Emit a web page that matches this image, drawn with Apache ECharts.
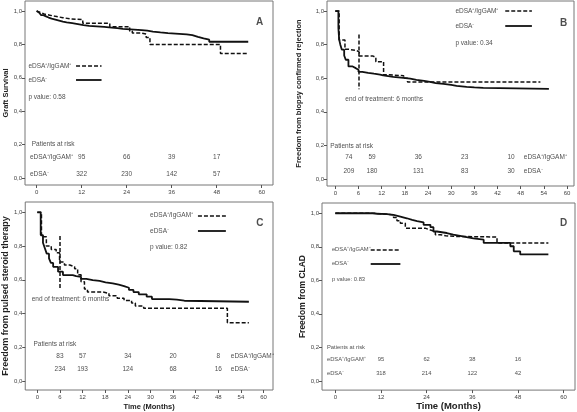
<!DOCTYPE html>
<html><head><meta charset="utf-8">
<script src="https://cdn.jsdelivr.net/npm/echarts@6/dist/echarts.min.js"></script>
<style>html,body{margin:0;padding:0;background:#fff}#c{width:577px;height:412px}</style>
</head><body><div id="c"></div>
<script>
// ---------- DATA ----------
// Kaplan-Meier curves: [month, survival]
const graftNeg = [[0,1],[0.3,0.99],[0.7,0.982],[1.2,0.975],[1.8,0.968],[2.5,0.961],[3.2,0.955],[4,0.949],[5,0.943],[6,0.937],[7,0.932],[8,0.927],[9.5,0.922],[11,0.916],[12.5,0.911],[14,0.908],[16,0.905],[18,0.901],[20,0.897],[21.5,0.893],[23,0.889],[26,0.886],[28,0.882],[29.5,0.877],[31,0.872],[33,0.868],[35,0.865],[37,0.86],[40,0.855],[41.5,0.845],[43,0.836],[44.5,0.828],[46,0.816],[56.4,0.816]];
const graftPos = [[0,1],[0.5,0.99],[1.2,0.982],[2,0.975],[3.5,0.968],[5,0.96],[7,0.953],[9,0.948],[12.3,0.926],[19.5,0.906],[24.8,0.88],[25.5,0.868],[28,0.862],[29.2,0.842],[30.2,0.8],[49,0.746],[56.4,0.746]];
const bcrNeg = [[0,1],[0.8,0.9],[1,0.83],[1.3,0.8],[1.7,0.77],[2.3,0.735],[2.7,0.71],[3.4,0.67],[4.5,0.66],[5.3,0.65],[6,0.638],[7,0.632],[8.5,0.627],[10,0.622],[11.6,0.617],[12.4,0.608],[15,0.603],[17,0.598],[19.4,0.59],[21,0.584],[23,0.578],[24.5,0.571],[26,0.566],[28,0.56],[30,0.555],[31.4,0.549],[34,0.545],[36,0.542],[38.3,0.537],[55.3,0.537]];
const bcrPos = [[0,1],[1,0.827],[2.5,0.772],[3.5,0.765],[5.5,0.755],[6.2,0.732],[9.8,0.724],[10.5,0.698],[12.5,0.62],[14,0.615],[17.7,0.6],[18.7,0.577],[53.1,0.577]];
const steroidNeg = [[0,1],[0.9,0.865],[1.5,0.82],[2,0.787],[2.5,0.755],[3.1,0.727],[3.6,0.7],[4.2,0.677],[5.5,0.648],[6.8,0.628],[9.4,0.622],[10.3,0.618],[11.6,0.605],[13,0.598],[14.7,0.593],[16.5,0.585],[18.1,0.579],[20,0.571],[21.6,0.563],[23,0.553],[24.3,0.54],[25.5,0.527],[26.9,0.514],[29,0.5],[30.4,0.486],[35,0.482],[37,0.476],[39,0.47],[56.1,0.47]];
const steroidPos = [[0,1],[1.1,0.855],[2.4,0.8],[3.7,0.78],[5,0.76],[5.9,0.705],[7.2,0.688],[8.6,0.677],[9.9,0.665],[10.7,0.63],[11.6,0.589],[12.5,0.545],[13.3,0.528],[17.3,0.52],[19,0.505],[21.2,0.49],[23,0.478],[25,0.462],[26,0.445],[28.2,0.431],[50.4,0.346],[56.1,0.346]];
const cladNeg = [[0,1],[9.2,0.997],[11,0.995],[13.6,0.99],[15.3,0.98],[17.1,0.97],[18.8,0.96],[20.2,0.953],[21.5,0.946],[23.2,0.931],[25,0.917],[25.8,0.891],[26.7,0.882],[29.3,0.872],[31,0.865],[32.8,0.858],[34.5,0.85],[36.3,0.842],[39,0.823],[46,0.803],[46.9,0.773],[48.6,0.754],[56,0.754]];
const cladPos = [[0,1],[10,0.995],[13,0.99],[15.3,0.975],[16.2,0.955],[17.1,0.94],[18.4,0.911],[23.6,0.9],[25,0.891],[26.3,0.872],[27.6,0.866],[29,0.862],[31.1,0.858],[42.5,0.823],[56,0.823]];

// Tick labels
const xTicks12 = [0,12,24,36,48,60];
const xTicks6 = [0,6,12,18,24,30,36,42,48,54,60];
const yTicks = [0,0.2,0.4,0.6,0.8,1.0];

// Patients at risk
const riskTimesA = [12,24,36,48], riskPosA = [95,66,39,17], riskNegA = [322,230,142,57];
const riskTimesB = [6,12,24,36,48], riskPosB = [74,59,36,23,10], riskNegB = [209,180,131,83,30];
const riskTimesC = [6,12,24,36,48], riskPosC = [83,57,34,20,8], riskNegC = [234,193,124,68,16];
const riskTimesD = [12,24,36,48], riskPosD = [95,62,38,16], riskNegD = [318,214,122,42];

const pValues = ['0.58','0.34','0.82','0.83'];
const letters = ['A','B','C','D'];
const yTitles = ['Graft Survival','Freedom from biopsy confirmed rejection','Freedom from pulsed steroid therapy','Freedom from CLAD'];
const labelPos = 'eDSA\u207A/IgGAM\u207A';
const labelNeg = 'eDSA\u207B';
const endText = 'end of treatment: 6 months';

// ---------- LAYOUT ----------
const FONT = '"Liberation Sans", Arial, sans-serif';
const panels = [
  {grid:{left:25,top:1,width:248,height:184}, x:[-3.1,63], y:[-0.042,1.06], xt:xTicks12, fs:6.5,
   yTitle:{size:7.5,gap:15}, xTitle:null,
   curves:[graftPos,graftNeg],
   leg:{x:-2.2,y1:0.672,y2:0.587,yp:0.483,lx:[10.5,17.3]},
   risk:{times:riskTimesA,pos:riskPosA,neg:riskNegA,shift:0,tx:-1.3,ty:0.202,rows:[0.122,0.024],lx:-1.8},
   letter:{x:59.4,y:0.93}, eot:null},
  {grid:{left:327,top:1,width:247,height:185}, x:[-2.15,61.8], y:[-0.042,1.06], xt:xTicks6, fs:6.5,
   yTitle:{size:7.5,gap:24}, xTitle:null,
   curves:[bcrPos,bcrNeg],
   leg:{x:31.1,y1:1.0,y2:0.911,yp:0.811,lx:[44,50.9]},
   risk:{times:riskTimesB,pos:riskPosB,neg:riskNegB,shift:-2.5,tx:-1.3,ty:0.198,rows:[0.127,0.048],lx:48.8},
   letter:{x:59.1,y:0.927}, eot:{x:6,y:[0.86,0.535],tx:2.6,ty:0.476}},
  {grid:{left:22,top:202,width:251,height:188}, x:[-3.2,62.5], y:[-0.053,1.061], xt:xTicks6, fs:6.5,
   yTitle:{size:9,gap:10}, xTitle:{size:7.5,gap:13},
   curves:[steroidPos,steroidNeg],
   leg:{x:29.9,y1:0.98,y2:0.889,yp:0.796,lx:[42.6,50]},
   risk:{times:riskTimesC,pos:riskPosC,neg:riskNegC,shift:0,tx:-1.0,ty:0.218,rows:[0.15,0.071],lx:51.3},
   letter:{x:59,y:0.938}, eot:{x:6,y:[0.86,0.55],tx:-1.5,ty:0.486}},
  {grid:{left:322,top:203,width:253,height:189}, x:[-3.5,63], y:[-0.055,1.061], xt:xTicks12, fs:5.8,
   yTitle:{size:8.5,gap:8}, xTitle:{size:9.5,gap:10},
   curves:[cladPos,cladNeg],
   leg:{x:-0.9,y1:0.783,y2:0.699,yp:0.606,lx:[9.3,17.1]},
   risk:{times:riskTimesD,pos:riskPosD,neg:riskNegD,shift:0,tx:-2.2,ty:0.197,rows:[0.128,0.045],lx:-2.2},
   letter:{x:60,y:0.941}, eot:null}
];

const DASH = {color:'#111', width:1.5, type:[4,2]};
const SOLID = {color:'#111', width:1.8, type:'solid'};

const grids=[], xAxes=[], yAxes=[], series=[];
function txt(x,y,text,o){
  o=o||{};
  return {value:[x,y], label:{show:true, position:'inside', formatter:text, align:o.align||'left', verticalAlign:'middle',
    fontSize:o.size||6.5, fontWeight:o.bold?'bold':'normal', color:'#222', fontFamily:FONT}};
}
panels.forEach((p,i)=>{
  grids.push(Object.assign({show:true, borderColor:'#777', borderWidth:1, backgroundColor:'#fff'}, p.grid));
  xAxes.push({type:'value', gridIndex:i, min:p.x[0], max:p.x[1], position:'bottom',
    axisLine:{show:false, onZero:false}, splitLine:{show:false},
    axisTick:{show:true, length:3, customValues:p.xt, lineStyle:{color:'#555'}},
    axisLabel:{customValues:p.xt, fontSize:6, color:'#444', margin:4, fontFamily:FONT},
    name:p.xTitle?'Time (Months)':'', nameLocation:'middle', nameGap:p.xTitle?p.xTitle.gap:0,
    nameTextStyle:{fontSize:p.xTitle?p.xTitle.size:8, fontWeight:'bold', color:'#222', fontFamily:FONT}});
  yAxes.push({type:'value', gridIndex:i, min:p.y[0], max:p.y[1], position:'left',
    axisLine:{show:false, onZero:false}, splitLine:{show:false},
    axisTick:{show:true, length:3, customValues:yTicks, lineStyle:{color:'#555'}},
    axisLabel:{customValues:yTicks, fontSize:6, color:'#444', margin:3, fontFamily:FONT,
      formatter:v=>v.toFixed(1).replace('.',',')},
    name:yTitles[i], nameLocation:'middle', nameRotate:90, nameGap:p.yTitle.gap,
    nameTextStyle:{fontSize:p.yTitle.size, fontWeight:'bold', color:'#222', fontFamily:FONT}});
  const L = p.leg;
  const mlPos = [[{coord:[L.lx[0],L.y1]},{coord:[L.lx[1],L.y1]}]];
  if(p.eot) mlPos.push([{coord:[p.eot.x,p.eot.y[0]]},{coord:[p.eot.x,p.eot.y[1]]}]);
  series.push({type:'line', xAxisIndex:i, yAxisIndex:i, data:p.curves[0], step:'end', symbol:'none',
    lineStyle:DASH, silent:true,
    markLine:{silent:true, symbol:['none','none'], label:{show:false}, lineStyle:DASH, data:mlPos}});
  series.push({type:'line', xAxisIndex:i, yAxisIndex:i, data:p.curves[1], step:'end', symbol:'none',
    lineStyle:SOLID, silent:true,
    markLine:{silent:true, symbol:['none','none'], label:{show:false}, lineStyle:SOLID,
      data:[[{coord:[L.lx[0],L.y2]},{coord:[L.lx[1],L.y2]}]]}});
  const R = p.risk, fs = p.fs;
  const ann = [
    txt(L.x,L.y1,labelPos,{size:fs}), txt(L.x,L.y2,labelNeg,{size:fs}), txt(L.x,L.yp,'p value: '+pValues[i],{size:fs}),
    txt(p.letter.x,p.letter.y,letters[i],{size:10,bold:true,align:'center'}),
    txt(R.tx,R.ty,'Patients at risk',{size:fs}),
    txt(R.lx,R.rows[0],labelPos,{size:fs}), txt(R.lx,R.rows[1],labelNeg,{size:fs})
  ];
  R.times.forEach((t,k)=>{
    ann.push(txt(t+R.shift,R.rows[0],String(R.pos[k]),{align:'center',size:fs}));
    ann.push(txt(t+R.shift,R.rows[1],String(R.neg[k]),{align:'center',size:fs}));
  });
  if(p.eot) ann.push(txt(p.eot.tx,p.eot.ty,endText,{size:fs}));
  series.push({type:'scatter', xAxisIndex:i, yAxisIndex:i, symbolSize:1, silent:true,
    itemStyle:{color:'rgba(0,0,0,0)'}, data:ann, z:5});
});

const chart = echarts.init(document.getElementById('c'), null, {renderer:'canvas'});
chart.setOption({animation:false, backgroundColor:'#fff', grid:grids, xAxis:xAxes, yAxis:yAxes, series:series});
</script></body></html>
